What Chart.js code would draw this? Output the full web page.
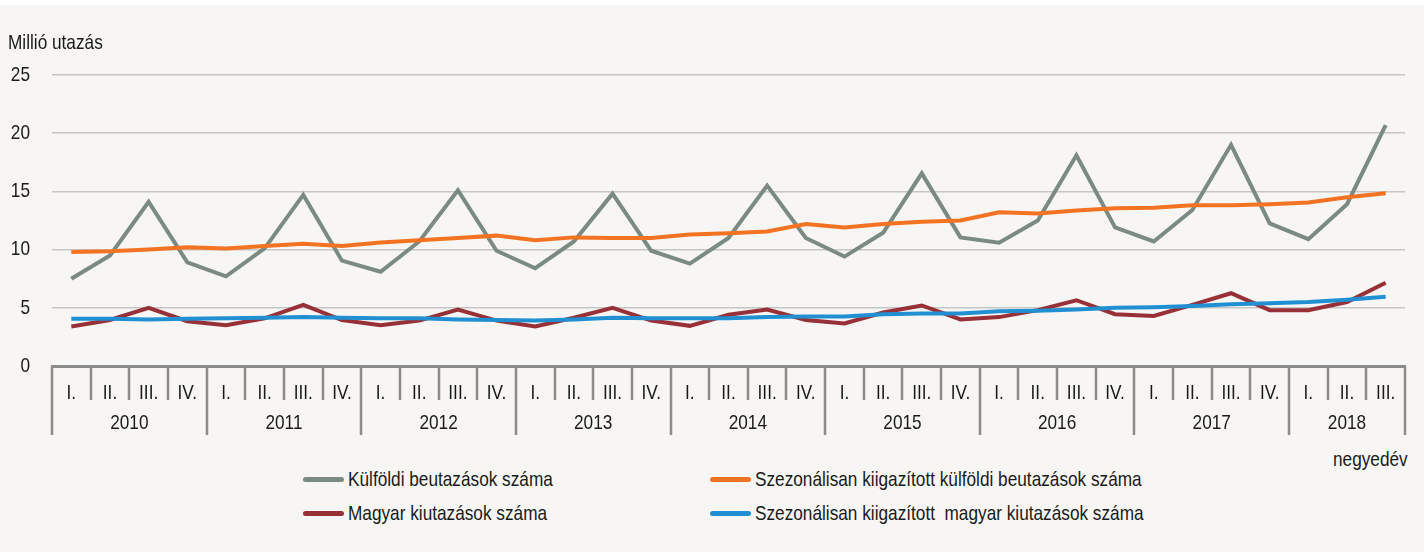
<!DOCTYPE html>
<html lang="hu">
<head>
    <meta charset="UTF-8">
    <title>Külföldi beutazások és magyar kiutazások</title>
    <script src="https://cdn.jsdelivr.net/npm/chart.js"></script>
    <style>
        body {
            margin: 0;
            background-color: #f7f6f4;
            font-family: 'Liberation Sans', Arial, sans-serif;
            color: #1a1a1a;
        }
        .page {
            position: relative;
            width: 1424px;
            height: 552px;
            overflow: hidden;
        }
        .top-strip {
            position: absolute;
            left: 0; top: 0;
            width: 1424px; height: 5px;
            background: #ffffff;
        }
        #chart {
            position: absolute;
            left: 0; top: 0;
        }
        /* the original uses a condensed face, squeeze the regular one */
        .narrow {
            display: inline-block;
            transform: scaleX(0.82);
            transform-origin: left center;
            white-space: pre;
        }
        .unit-x {
            position: absolute;
            left: 1333px;
            top: 447px;
            font-size: 21px;
        }
        .legend-item {
            position: absolute;
            font-size: 21px;
            line-height: 24px;
        }
        .legend-item .swatch {
            position: absolute;
            left: -45px;
            top: 10px;
            width: 41px;
            height: 5px;
            border-radius: 3px;
        }
    </style>
</head>
<body>
<div class="page">
    <div class="top-strip"></div>
    <canvas id="chart" width="1424" height="445"></canvas>
    <div class="unit-x"><span class="narrow">negyedév</span></div>
    <div id="legend"></div>
</div>

<script>
    // quarters 2010 I. - 2018 III.
    const years = ["2010", "2011", "2012", "2013", "2014", "2015", "2016", "2017", "2018"];
    const quarterNames = ["I.", "II.", "III.", "IV."];
    const yTicks = [0, 5, 10, 15, 20, 25];

    const seriesLabels = [
        "Külföldi beutazások száma",
        "Szezonálisan kiigazított külföldi beutazások száma",
        "Magyar kiutazások száma",
        "Szezonálisan kiigazított  magyar kiutazások száma"
    ];
    const seriesColors = ["#7b8b81", "#f47322", "#983038", "#2190d3"];

    const kulfoldi = [
        7.5, 9.5, 14.1, 8.9,
        7.7, 10.1, 14.7, 9.05,
        8.1, 10.7, 15.1, 9.9,
        8.4, 10.7, 14.8, 9.9,
        8.8, 11.0, 15.5, 11.0,
        9.4, 11.45, 16.55, 11.05,
        10.6, 12.5, 18.1, 11.9,
        10.7, 13.4, 19.0, 12.25,
        10.9, 13.9, 20.7
    ];
    const kulfoldiSa = [
        9.8, 9.85, 10.0, 10.2,
        10.1, 10.3, 10.5, 10.3,
        10.6, 10.8, 11.0, 11.2,
        10.8, 11.05, 11.0, 11.0,
        11.3, 11.4, 11.55, 12.2,
        11.9, 12.2, 12.4, 12.5,
        13.2, 13.1, 13.35, 13.55,
        13.6, 13.8, 13.8, 13.9,
        14.05, 14.5, 14.85
    ];
    const magyar = [
        3.4, 3.95, 5.0, 3.85,
        3.5, 4.1, 5.25, 3.95,
        3.5, 3.9, 4.85, 3.9,
        3.4, 4.15, 5.0, 3.9,
        3.45, 4.4, 4.85, 3.95,
        3.65, 4.6, 5.2, 4.0,
        4.2, 4.8, 5.65, 4.45,
        4.3, 5.25, 6.25, 4.8,
        4.8, 5.5, 7.15
    ];
    const magyarSa = [
        4.05, 4.05, 4.0, 4.05,
        4.1, 4.15, 4.2, 4.15,
        4.1, 4.1, 4.0, 3.95,
        3.9, 4.0, 4.15, 4.1,
        4.1, 4.1, 4.2, 4.25,
        4.25, 4.45, 4.5, 4.5,
        4.7, 4.75, 4.85, 5.0,
        5.05, 5.15, 5.3, 5.4,
        5.5, 5.7, 5.95
    ];

    const FONT = "21px 'Liberation Sans', Arial, sans-serif";
    const TEXT = '#1a1a1a';
    const SQUEEZE = 0.82;

    const labels = [];
    years.forEach(function (y) {
        quarterNames.forEach(function (q) { labels.push(y + " " + q); });
    });
    labels.length = kulfoldi.length;

    // legend (two columns)
    const legendPos = [[348, 467], [755, 467], [348, 501], [755, 501]];
    const legendEl = document.getElementById('legend');
    seriesLabels.forEach(function (txt, i) {
        const d = document.createElement('div');
        d.className = 'legend-item';
        d.style.left = legendPos[i][0] + 'px';
        d.style.top = legendPos[i][1] + 'px';
        const t = document.createElement('span');
        t.className = 'narrow';
        t.textContent = txt;
        const sw = document.createElement('span');
        sw.className = 'swatch';
        sw.style.background = seriesColors[i];
        d.appendChild(sw);
        d.appendChild(t);
        legendEl.appendChild(d);
    });

    function narrowText(ctx, txt, x, y, align) {
        ctx.save();
        ctx.translate(x, y);
        ctx.scale(SQUEEZE, 1);
        ctx.textAlign = align;
        ctx.fillText(txt, 0, 0);
        ctx.restore();
    }

    // y labels, two-level category axis, unit title
    const axisPlugin = {
        id: 'axisPlugin',
        afterDraw(chart) {
            const ctx = chart.ctx;
            const x = chart.scales.x;
            const yS = chart.scales.y;
            const area = chart.chartArea;
            const n = labels.length;
            const step = (x.right - x.left) / n;
            ctx.save();

            ctx.strokeStyle = '#8b8b8b';
            ctx.lineWidth = 2.5;
            for (let i = 0; i <= n; i++) {
                const bx = i < n ? x.getPixelForValue(i) - step / 2 : x.right;
                const isYear = i % 4 === 0 || i === n;
                ctx.beginPath();
                ctx.moveTo(Math.round(bx), area.bottom);
                ctx.lineTo(Math.round(bx), area.bottom + (isYear ? 69 : 34));
                ctx.stroke();
            }

            ctx.fillStyle = TEXT;
            ctx.font = FONT;
            ctx.textBaseline = 'middle';
            for (let i = 0; i < n; i++) {
                narrowText(ctx, quarterNames[i % 4], x.getPixelForValue(i), area.bottom + 27, 'center');
            }
            years.forEach(function (y, k) {
                const first = k * 4;
                const last = Math.min(first + 3, n - 1);
                const cx = (x.getPixelForValue(first) + x.getPixelForValue(last)) / 2;
                narrowText(ctx, y, cx, area.bottom + 57, 'center');
            });

            yTicks.forEach(function (v) {
                narrowText(ctx, String(v), area.left - 22, yS.getPixelForValue(v), 'right');
            });

            narrowText(ctx, 'Millió utazás', 8, 43, 'left');
            ctx.restore();
        }
    };

    const data = [kulfoldi, kulfoldiSa, magyar, magyarSa];
    const drawOrder = [3, 1, 2, 0];

    new Chart(document.getElementById('chart'), {
        type: 'line',
        data: {
            labels: labels,
            datasets: data.map(function (vals, i) {
                return {
                    label: seriesLabels[i],
                    data: vals,
                    borderColor: seriesColors[i],
                    backgroundColor: seriesColors[i],
                    borderWidth: 4,
                    pointRadius: 0,
                    tension: 0,
                    fill: false,
                    order: drawOrder[i]
                };
            })
        },
        options: {
            responsive: false,
            animation: false,
            layout: { padding: { left: 0, right: 19, top: 75, bottom: 0 } },
            plugins: {
                legend: { display: false },
                tooltip: { enabled: false }
            },
            scales: {
                x: {
                    type: 'category',
                    offset: true,
                    grid: { display: false, drawTicks: false },
                    border: { display: true, color: '#8b8b8b', width: 3 },
                    ticks: { display: false },
                    afterFit: function (scale) { scale.height = 79; }
                },
                y: {
                    min: 0,
                    max: 25,
                    afterBuildTicks: function (scale) {
                        scale.ticks = yTicks.map(function (v) { return { value: v }; });
                    },
                    grid: { color: '#c6c6c6', lineWidth: 1.5, drawTicks: false },
                    border: { display: false },
                    ticks: { display: false },
                    afterFit: function (scale) { scale.width = 52; }
                }
            }
        },
        plugins: [axisPlugin]
    });
</script>
</body>
</html>
